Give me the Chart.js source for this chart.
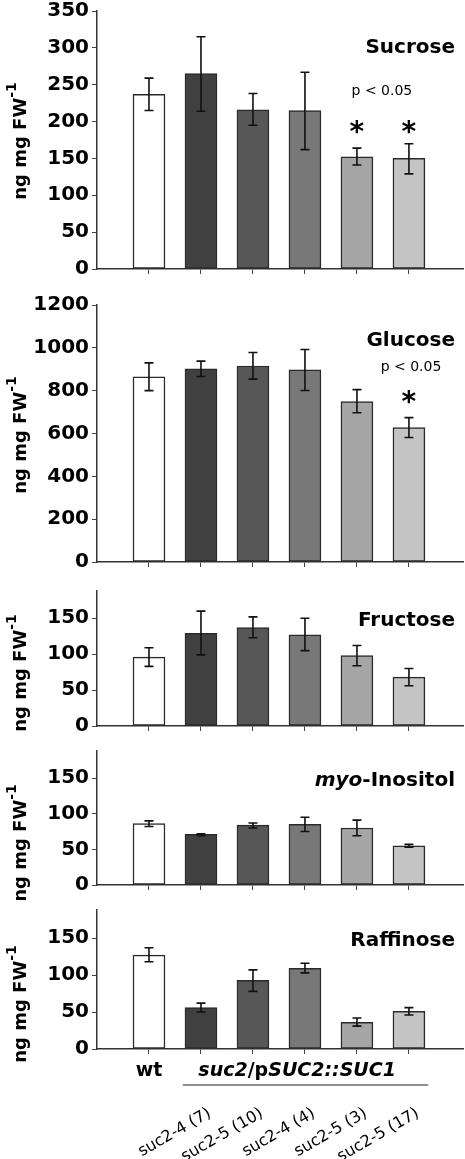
<!DOCTYPE html>
<html>
<head>
<meta charset="utf-8">
<script src="https://cdn.jsdelivr.net/npm/chart.js@4.4.1/dist/chart.umd.min.js"></script>
<style>
  html, body { margin: 0; padding: 0; background: #fff; }
  body { position: relative; width: 465px; height: 1159px; overflow: hidden; }
  canvas { position: absolute; left: 0; }
</style>
</head>
<body>
<script>
// lines / genotypes
const categories = ["wt", "suc2-4 (7)", "suc2-5 (10)", "suc2-4 (4)", "suc2-5 (3)", "suc2-5 (17)"];
const barColors = ["#ffffff", "#404040", "#575757", "#787878", "#a6a6a6", "#c4c4c4"];

// sugar contents, ng mg FW-1 (mean, error bar low, error bar high)
const sucrose = [237, 265, 216, 215, 152, 150];
const sucroseLow = [215, 214, 195, 162, 141, 129];
const sucroseHigh = [259, 315, 238, 267, 164, 170];

const glucose = [865, 902, 915, 897, 749, 628];
const glucoseLow = [800, 866, 854, 801, 697, 581];
const glucoseHigh = [930, 938, 978, 992, 805, 674];

const fructose = [96, 129, 137, 127, 98, 68];
const fructoseLow = [83, 99, 123, 105, 84, 56];
const fructoseHigh = [109, 160, 152, 150, 112, 80];

const inositol = [86, 71, 84, 85, 80, 55];
const inositolLow = [82, 69, 80, 75, 69, 53];
const inositolHigh = [90, 72, 87, 95, 91, 57];

const raffinose = [127, 56, 93, 109, 36, 51];
const raffinoseLow = [118, 50, 78, 103, 31, 46];
const raffinoseHigh = [137, 62, 107, 116, 42, 56];

// y tick labels
const sucroseTicks = [0, 50, 100, 150, 200, 250, 300, 350];
const glucoseTicks = [0, 200, 400, 600, 800, 1000, 1200];
const smallTicks = [0, 50, 100, 150];

// significance marks (bar indices)
const sucroseStars = [4, 5];
const glucoseStars = [5];

const FONT = "'DejaVu Sans', sans-serif";

const panels = [
  { title: "Sucrose", values: sucrose, low: sucroseLow, high: sucroseHigh, ticks: sucroseTicks, max: 350,
    top: 8, bottom: 272, titleDy: 42, labelY: 141, stars: sucroseStars, starVal: 192, pText: { x: 4.48, y: 236 } },
  { title: "Glucose", values: glucose, low: glucoseLow, high: glucoseHigh, ticks: glucoseTicks, max: 1200,
    top: 302, bottom: 565, titleDy: 41, labelY: 435, stars: glucoseStars, starVal: 767, pText: { x: 5.04, y: 892 } },
  { title: "Fructose", values: fructose, low: fructoseLow, high: fructoseHigh, ticks: smallTicks, max: 188,
    top: 588, bottom: 729, titleDy: 35, labelY: 673 },
  { title: "-Inositol", italicPrefix: "myo", values: inositol, low: inositolLow, high: inositolHigh, ticks: smallTicks, max: 188,
    top: 748, bottom: 888, titleDy: 35, labelY: 843 },
  { title: "Raffinose", values: raffinose, low: raffinoseLow, high: raffinoseHigh, ticks: smallTicks, max: 188,
    top: 907, bottom: 1049, titleDy: 36, labelY: 1004, last: true }
];

function drawYTitle(ctx, cy) {
  ctx.save();
  ctx.translate(26, cy);
  ctx.rotate(-Math.PI / 2);
  ctx.fillStyle = "#000";
  ctx.textBaseline = "alphabetic";
  ctx.textAlign = "left";
  ctx.font = "bold 18px " + FONT;
  const main = "ng mg FW";
  const w1 = ctx.measureText(main).width;
  ctx.font = "bold 14px " + FONT;
  const w2 = ctx.measureText("-1").width;
  const x0 = -(w1 + w2) / 2;
  ctx.font = "bold 18px " + FONT;
  ctx.fillText(main, x0, 0);
  ctx.font = "bold 14px " + FONT;
  ctx.fillText("-1", x0 + w1, -10);
  ctx.restore();
}

function makePanel(p) {
  const padTop = 12;
  const xHeight = p.last ? 1159 - p.bottom : 12;
  const h = (p.bottom - p.top) + padTop + xHeight;
  const canvas = document.createElement("canvas");
  canvas.width = 465;
  canvas.height = h;
  canvas.style.top = (p.top - padTop) + "px";
  canvas.style.width = "465px";
  canvas.style.height = h + "px";
  document.body.appendChild(canvas);

  const extras = {
    id: "extras",
    afterDatasetsDraw(chart) {
      const ctx = chart.ctx;
      const xs = chart.scales.x, ys = chart.scales.y;
      const area = chart.chartArea;
      const meta = chart.getDatasetMeta(0);

      // error bars
      ctx.save();
      ctx.strokeStyle = "#111";
      ctx.lineWidth = 1.6;
      meta.data.forEach((el, i) => {
        const x = el.x;
        const yH = ys.getPixelForValue(p.high[i]);
        const yL = ys.getPixelForValue(p.low[i]);
        ctx.beginPath();
        ctx.moveTo(x, yH); ctx.lineTo(x, yL);
        ctx.moveTo(x - 4.5, yH); ctx.lineTo(x + 4.5, yH);
        ctx.moveTo(x - 4.5, yL); ctx.lineTo(x + 4.5, yL);
        ctx.stroke();
      });
      ctx.restore();

      // panel title
      ctx.save();
      ctx.fillStyle = "#000";
      ctx.textBaseline = "alphabetic";
      ctx.textAlign = "right";
      ctx.font = "bold 20px " + FONT;
      const ty = area.top + p.titleDy;
      ctx.fillText(p.title, 455, ty);
      if (p.italicPrefix) {
        const w = ctx.measureText(p.title).width;
        ctx.font = "italic bold 20px " + FONT;
        ctx.fillText(p.italicPrefix, 455 - w, ty);
      }
      ctx.restore();

      // significance
      if (p.pText) {
        ctx.save();
        ctx.fillStyle = "#000";
        ctx.font = "14px " + FONT;
        ctx.textAlign = "center";
        ctx.textBaseline = "alphabetic";
        ctx.fillText("p < 0.05", xs.getPixelForValue(p.pText.x), ys.getPixelForValue(p.pText.y));
        ctx.restore();
      }
      if (p.stars) {
        ctx.save();
        ctx.fillStyle = "#000";
        ctx.font = "bold 28px " + FONT;
        ctx.textAlign = "center";
        ctx.textBaseline = "middle";
        p.stars.forEach(i => {
          ctx.fillText("*", xs.getPixelForValue(i), ys.getPixelForValue(p.starVal) + 6);
        });
        ctx.restore();
      }

      // y axis title
      drawYTitle(ctx, p.labelY - (p.top - padTop));

      // category labels under the last panel
      if (p.last) {
        const base = area.bottom;
        ctx.save();
        ctx.fillStyle = "#000";
        ctx.textBaseline = "alphabetic";
        ctx.font = "bold 19px " + FONT;
        ctx.textAlign = "center";
        ctx.fillText(categories[0], xs.getPixelForValue(0), base + 27);

        // group label: suc2/pSUC2::SUC1
        const parts = [["suc2", true], ["/p", false], ["SUC2::SUC1", true]];
        let total = 0;
        parts.forEach(([t, it]) => {
          ctx.font = (it ? "italic " : "") + "bold 19px " + FONT;
          total += ctx.measureText(t).width;
        });
        let gx = xs.getPixelForValue(2.85) - total / 2;
        ctx.textAlign = "left";
        parts.forEach(([t, it]) => {
          ctx.font = (it ? "italic " : "") + "bold 19px " + FONT;
          ctx.fillText(t, gx, base + 27);
          gx += ctx.measureText(t).width;
        });

        ctx.strokeStyle = "#222";
        ctx.lineWidth = 1.2;
        ctx.beginPath();
        ctx.moveTo(xs.getPixelForValue(0.65), base + 36);
        ctx.lineTo(xs.getPixelForValue(5.37), base + 36);
        ctx.stroke();

        ctx.font = "16px " + FONT;
        ctx.textAlign = "right";
        for (let i = 1; i < categories.length; i++) {
          ctx.save();
          ctx.translate(xs.getPixelForValue(i) + 11, base + 67);
          ctx.rotate(-Math.PI / 6);
          ctx.fillText(categories[i], 0, 0);
          ctx.restore();
        }
        ctx.restore();
      }
    }
  };

  new Chart(canvas, {
    type: "bar",
    data: {
      datasets: [{
        data: p.values.map((v, i) => ({ x: i, y: v })),
        backgroundColor: barColors,
        borderColor: "#2a2a2a",
        borderWidth: 1.5,
        borderSkipped: false,
        barThickness: 32
      }]
    },
    options: {
      responsive: false,
      animation: false,
      devicePixelRatio: 1,
      layout: { padding: { top: padTop, right: 2, left: 0, bottom: 0 } },
      plugins: { legend: { display: false }, tooltip: { enabled: false } },
      scales: {
        x: {
          type: "linear",
          offset: false,
          min: -1,
          max: 6.04,
          afterBuildTicks: s => { s.ticks = categories.map((c, i) => ({ value: i })); },
          afterFit: s => { s.height = xHeight; },
          ticks: { display: false },
          grid: { offset: false, drawOnChartArea: false, tickLength: 5, color: "#444", lineWidth: 1 },
          border: { color: "#333", width: 1.5 }
        },
        y: {
          min: 0,
          max: p.max,
          afterBuildTicks: s => { s.ticks = p.ticks.map(v => ({ value: v })); },
          afterFit: s => { s.width = 97; },
          ticks: {
            color: "#000", padding: 3,
            font: { family: FONT, weight: "bold", size: 20 },
            callback: v => String(v)
          },
          grid: { drawOnChartArea: false, tickLength: 5, color: "#444", lineWidth: 1 },
          border: { color: "#333", width: 1.5 }
        }
      }
    },
    plugins: [extras]
  });
}

panels.forEach(makePanel);
</script>
</body>
</html>
